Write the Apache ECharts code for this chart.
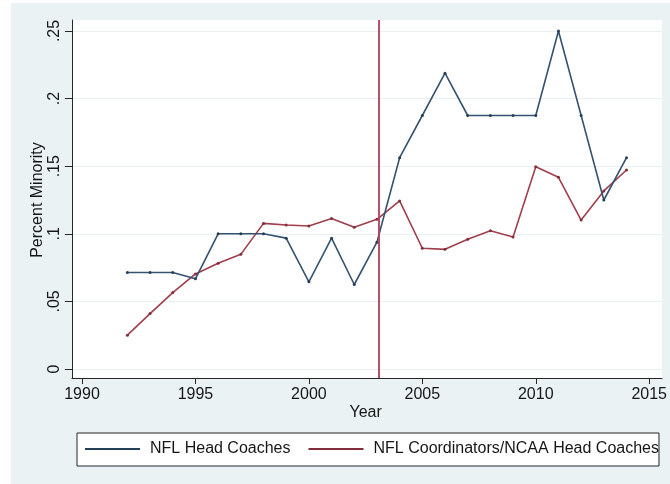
<!DOCTYPE html>
<html>
<head>
<meta charset="utf-8">
<script src="https://cdn.jsdelivr.net/npm/echarts@6/dist/echarts.min.js"></script>
<style>
  html, body { margin: 0; padding: 0; background: #ffffff; }
  #bg { position: absolute; left: 11px; top: 3px; width: 659px; height: 481px; background: #eaf2f3; }
  #chart { position: absolute; left: 0; top: 0; width: 670px; height: 484px; }
</style>
</head>
<body>
<div id="bg"></div>
<div id="chart"></div>
<script>
// ---- data ----
const years = [1992, 1993, 1994, 1995, 1996, 1997, 1998, 1999, 2000, 2001, 2002, 2003,
               2004, 2005, 2006, 2007, 2008, 2009, 2010, 2011, 2012, 2013, 2014];
const nflHeadCoaches = [0.0714, 0.0714, 0.0714, 0.0667, 0.1, 0.1, 0.1, 0.0968, 0.0645, 0.0968, 0.0625, 0.0938,
                        0.1563, 0.1875, 0.2188, 0.1875, 0.1875, 0.1875, 0.1875, 0.25, 0.1875, 0.125, 0.1563];
const coordinatorsNcaa = [0.025, 0.041, 0.0565, 0.0703, 0.0782, 0.0848, 0.1077, 0.1065, 0.1058, 0.1114, 0.1048, 0.1107,
                          0.1243, 0.0893, 0.0885, 0.0959, 0.1023, 0.0976, 0.1496, 0.1418, 0.1102, 0.1317, 0.1472];
const seriesNames = ['NFL Head Coaches', 'NFL Coordinators/NCAA Head Coaches'];
const policyYear = 2003;
const yTickLabels = ['0', '.05', '.1', '.15', '.2', '.25'];
const xTickLabels = ['1990', '1995', '2000', '2005', '2010', '2015'];

// ---- chart ----
const FONT = "'Liberation Sans', Arial, Helvetica, sans-serif";
const TXT = '#161616';
const AX = '#262626';
const BLUE = '#35536f';
const RED = '#a03e4c';

const chart = echarts.init(document.getElementById('chart'), null, { renderer: 'canvas' });

const toPairs = (vals) => years.map((y, i) => [y, vals[i]]);

const option = {
  backgroundColor: 'transparent',
  animation: false,
  textStyle: { fontFamily: FONT, color: TXT },
  grid: [
    // plot region frame (white background, axis lines)
    { left: 72, right: 8, top: 20, bottom: 106, show: true, backgroundColor: '#ffffff', borderWidth: 0 },
    // y ticks / gridlines across whole plot region
    { left: 72, right: 8, top: 31, bottom: 115 },
    // data region
    { left: 82, right: 18, top: 31, bottom: 115 }
  ],
  xAxis: [
    { gridIndex: 0, type: 'value', min: 1989.5614, max: 2015.4386,
      axisLine: { show: true, onZero: false, lineStyle: { color: AX, width: 1 } },
      axisTick: { show: false }, axisLabel: { show: false }, splitLine: { show: false } },
    { gridIndex: 1, type: 'value', min: 0, max: 1, show: false },
    { gridIndex: 2, type: 'value', min: 1990, max: 2015, interval: 5, offset: 9,
      axisLine: { show: false, onZero: false },
      axisTick: { show: true, length: 6, lineStyle: { color: AX, width: 1 } },
      axisLabel: { show: true, margin: 9, fontSize: 16, color: TXT, fontFamily: FONT,
                   formatter: (v, i) => xTickLabels[i] },
      splitLine: { show: false },
      name: 'Year', nameLocation: 'middle', nameGap: 27, nameMoveOverlap: false,
      nameTextStyle: { fontSize: 16, color: TXT, fontFamily: FONT } }
  ],
  yAxis: [
    { gridIndex: 0, type: 'value', min: -0.006657, max: 0.258136,
      axisLine: { show: true, onZero: false, lineStyle: { color: AX, width: 1 } },
      axisTick: { show: false }, axisLabel: { show: false }, splitLine: { show: false } },
    { gridIndex: 1, type: 'value', min: 0, max: 0.25, interval: 0.05,
      axisLine: { show: false, onZero: false },
      axisTick: { show: true, length: 7, lineStyle: { color: AX, width: 1 } },
      axisLabel: { show: true, rotate: 90, margin: 9, fontSize: 16, color: TXT, fontFamily: FONT,
                   formatter: (v, i) => yTickLabels[i] },
      splitLine: { show: true, lineStyle: { color: '#e8f0f2', width: 1 } },
      name: 'Percent Minority', nameLocation: 'middle', nameGap: 26, nameMoveOverlap: false,
      nameTextStyle: { fontSize: 16, color: TXT, fontFamily: FONT } },
    { gridIndex: 2, type: 'value', min: 0, max: 0.25, show: false }
  ],
  legend: {
    left: 77, top: 433,
    orient: 'horizontal',
    data: seriesNames,
    icon: 'rect',
    itemWidth: 55, itemHeight: 2, itemGap: 18,
    padding: [8, 0, 9, 8],
    backgroundColor: '#ffffff',
    borderColor: AX, borderWidth: 1, borderRadius: 0,
    textStyle: { fontSize: 16, color: TXT, fontFamily: FONT, padding: [0, 0, 0, 5] },
    selectedMode: false
  },
  series: [
    { name: 'policy', type: 'line', xAxisIndex: 0, yAxisIndex: 0, data: [], z: 1,
      markLine: { silent: true, symbol: 'none', label: { show: false },
                  lineStyle: { color: '#b43c5c', width: 1.8, type: 'solid' },
                  data: [{ xAxis: policyYear }] } },
    { name: seriesNames[0], type: 'line', xAxisIndex: 2, yAxisIndex: 2, z: 3,
      data: toPairs(nflHeadCoaches), color: BLUE,
      symbol: 'circle', symbolSize: 3, showSymbol: true,
      lineStyle: { color: BLUE, width: 1.6 },
      itemStyle: { color: '#263f58' } },
    { name: seriesNames[1], type: 'line', xAxisIndex: 2, yAxisIndex: 2, z: 2,
      data: toPairs(coordinatorsNcaa), color: RED,
      symbol: 'circle', symbolSize: 3, showSymbol: true,
      lineStyle: { color: RED, width: 1.6 },
      itemStyle: { color: '#822f3b' } }
  ]
};

chart.setOption(option);
</script>
</body>
</html>
